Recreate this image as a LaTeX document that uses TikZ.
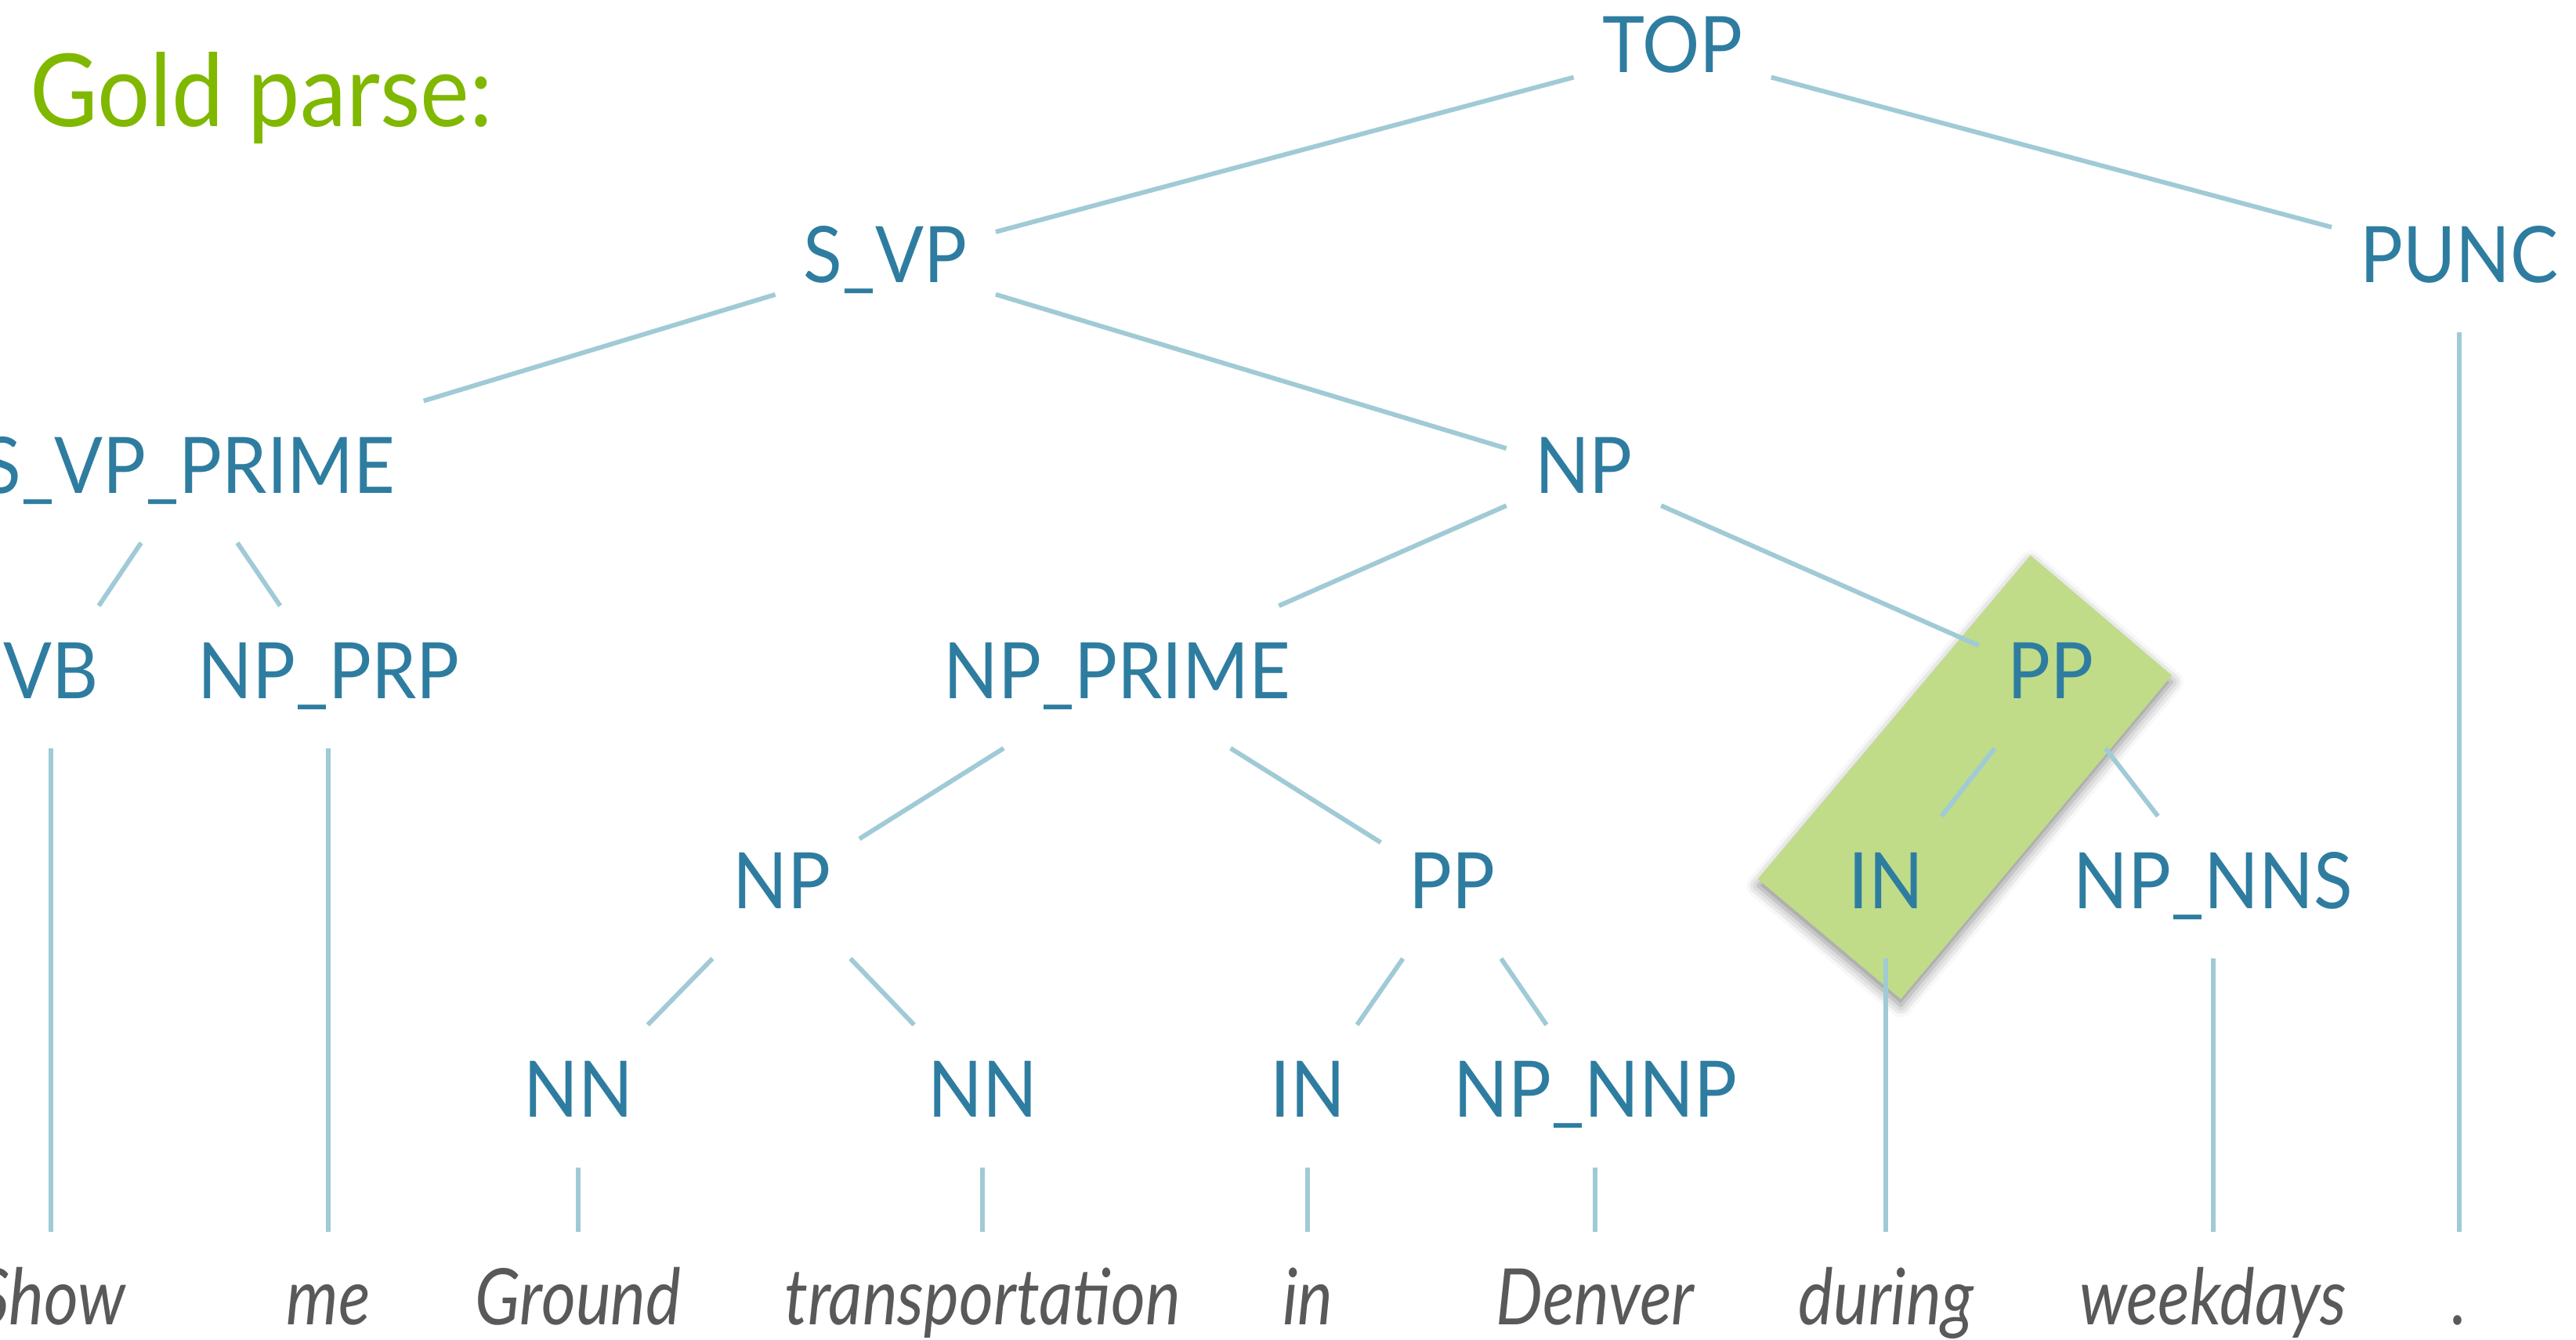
\documentclass[tikz,border=0pt]{standalone}
\usepackage{fontspec}
\setmainfont{Lato}[FakeStretch=0.92]
\newfontfamily\wordfont{Lato}[FakeStretch=0.85]
\usetikzlibrary{shadows.blur}
\definecolor{labelblue}{RGB}{46,125,160}
\definecolor{edgeblue}{RGB}{160,202,214}
\definecolor{wordgray}{RGB}{89,89,89}
\definecolor{goldgreen}{RGB}{128,184,0}
\definecolor{boxgreen}{RGB}{192,220,136}
\begin{document}
\begin{tikzpicture}[x=0.02cm, y=-0.02cm,
        lbl/.style={anchor=base, text=labelblue, font=\fontsize{27}{30}\selectfont,
            text height=0.68cm, text depth=0.16cm, inner xsep=0.34cm, inner ysep=0.44cm},
        word/.style={lbl, text=wordgray, font=\wordfont\itshape\fontsize{27}{30}\selectfont},
        edge/.style={edgeblue, line width=1.6pt}]
                \useasboundingbox (0,0) rectangle (1568,815);
                \clip (0,0) rectangle (1568,815);
                \fill[boxgreen, blur shadow={shadow xshift=0pt, shadow yshift=-0.08cm, shadow blur radius=0.14cm, shadow opacity=45}]
                    (1236,338) -- (1322,411) -- (1157,608) -- (1070,535) -- cycle;
                \node[anchor=base west, inner sep=0pt, text=goldgreen, font=\fontsize{35}{40}\selectfont] (title) at (18,77) {Gold parse:};
                \node[lbl] (top) at (1018,44) {TOP};
                \node[lbl] (svp) at (539,172) {S\_VP};
                \node[lbl] (punc) at (1497,172) {PUNC};
                \node[lbl] (svpp) at (115,300) {S\_VP\_PRIME};
                \node[lbl] (np) at (964,300) {NP};
                \node[lbl] (vb) at (31,425) {VB};
                \node[lbl] (npprp) at (200,425) {NP\_PRP};
                \node[lbl] (npp) at (680,425) {NP\_PRIME};
                \node[lbl] (pp) at (1248,425) {PP};
                \node[lbl] (npa) at (476,553) {NP};
                \node[lbl] (ppa) at (884,553) {PP};
                \node[lbl] (ina) at (1148,553) {IN};
                \node[lbl] (npnns) at (1347,553) {NP\_NNS};
                \node[lbl] (nna) at (352,680) {NN};
                \node[lbl] (nnb) at (598,680) {NN};
                \node[lbl] (inb) at (796,680) {IN};
                \node[lbl] (npnnp) at (971,680) {NP\_NNP};
                \node[word] (wshow) at (31,806) {Show};
                \node[word] (wme) at (200,806) {me};
                \node[word] (wground) at (352,806) {Ground};
                \node[word] (wtransp) at (598,806) {transportation};
                \node[word] (win) at (796,806) {in};
                \node[word] (wdenver) at (971,806) {Denver};
                \node[word] (wduring) at (1148,806) {during};
                \node[word] (wweekdays) at (1347,806) {weekdays};
                \node[word] (wdot) at (1497,806) {.};
                \draw[edge] (top) -- (svp);
                \draw[edge] (top) -- (punc);
                \draw[edge] (svp) -- (svpp);
                \draw[edge] (svp) -- (np);
                \draw[edge] (svpp) -- (vb);
                \draw[edge] (svpp) -- (npprp);
                \draw[edge] (np) -- (npp);
                \draw[edge] (np) -- (pp);
                \draw[edge] (npp) -- (npa);
                \draw[edge] (npp) -- (ppa);
                \draw[edge] (pp) -- (ina);
                \draw[edge] (pp) -- (npnns);
                \draw[edge] (npa) -- (nna);
                \draw[edge] (npa) -- (nnb);
                \draw[edge] (ppa) -- (inb);
                \draw[edge] (ppa) -- (npnnp);
                \draw[edge] (vb) -- (wshow);
                \draw[edge] (npprp) -- (wme);
                \draw[edge] (nna) -- (wground);
                \draw[edge] (nnb) -- (wtransp);
                \draw[edge] (inb) -- (win);
                \draw[edge] (npnnp) -- (wdenver);
                \draw[edge] (ina) -- (wduring);
                \draw[edge] (npnns) -- (wweekdays);
                \draw[edge] (punc) -- (wdot);
            \end{tikzpicture}
\end{document}
